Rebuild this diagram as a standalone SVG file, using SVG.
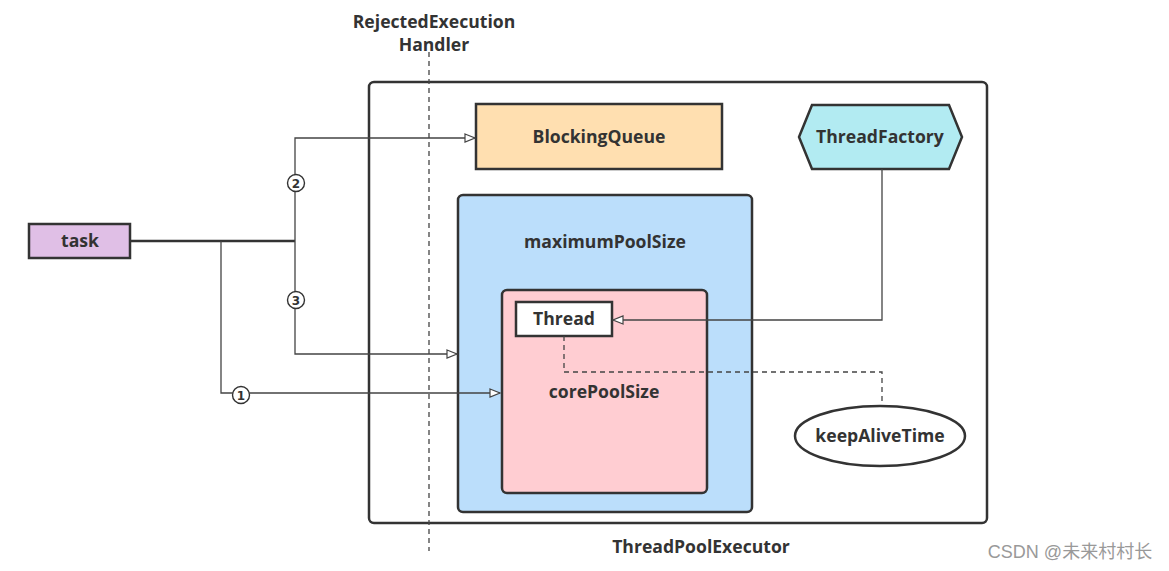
<svg xmlns="http://www.w3.org/2000/svg" width="1169" height="571" viewBox="0 0 1169 571">
<style>
.box{stroke:#333;stroke-width:2.5}
.t{font-family:"Open Sans","Noto Sans","DejaVu Sans",sans-serif;font-weight:bold;font-size:17.6px;fill:#333;text-anchor:middle}
.c{fill:none;stroke:#444;stroke-width:1.3}
.d{fill:none;stroke:#444;stroke-width:1.3;stroke-dasharray:5,4}
.n{fill:#fff;stroke:#333;stroke-width:1.4}
.nt{font-family:"DejaVu Sans",sans-serif;font-weight:bold;font-size:12px;fill:#333;text-anchor:middle}
</style>
<defs>
<marker id="a" markerWidth="12" markerHeight="10" refX="11" refY="5" orient="auto" markerUnits="userSpaceOnUse">
<path d="M1,1 L11,5 L1,9 Z" fill="#fff" stroke="#444" stroke-width="1.2"/>
</marker>
</defs>
<rect width="1169" height="571" fill="#fff"/>
<g id="executor">
<rect x="369" y="82" width="618" height="441" rx="5" fill="#fff" class="box"/>
<text class="t" x="701" y="553">ThreadPoolExecutor</text>
</g>
<g id="handler">
<line x1="429" y1="52" x2="429" y2="551" class="d"/>
<text class="t" x="434" y="28">RejectedExecution</text>
<text class="t" x="434" y="51">Handler</text>
</g>
<g id="maxpool">
<rect x="458" y="195" width="294" height="317" rx="5" fill="#bbdefb" class="box"/>
<text class="t" x="605" y="248">maximumPoolSize</text>
</g>
<g id="corepool">
<rect x="502" y="290" width="205" height="203" rx="5" fill="#ffcdd2" class="box"/>
<text class="t" x="604" y="398">corePoolSize</text>
</g>
<g id="thread">
<rect x="516" y="302" width="96" height="34" fill="#fff" class="box"/>
<text class="t" x="564" y="325">Thread</text>
</g>
<g id="queue">
<rect x="476" y="104" width="246" height="65" fill="#ffdfb0" class="box"/>
<text class="t" x="599" y="143">BlockingQueue</text>
</g>
<g id="factory">
<polygon points="812,105 949,105 962,137 949,169 812,169 799,137" fill="#b2ebf2" class="box"/>
<text class="t" x="880" y="143">ThreadFactory</text>
</g>
<g id="keepalive">
<ellipse cx="880" cy="436" rx="85" ry="30" fill="#fff" class="box"/>
<text class="t" x="880" y="442">keepAliveTime</text>
</g>
<g id="task">
<rect x="29" y="224" width="101" height="34" fill="#e0bfe6" class="box"/>
<text class="t" x="80" y="247">task</text>
</g>
<g id="connectors">
<line x1="130" y1="241" x2="295" y2="241" stroke="#333" stroke-width="2.5"/>
<path d="M295,241 V138 H475" class="c" marker-end="url(#a)"/>
<path d="M295,241 V354 H457" class="c" marker-end="url(#a)"/>
<path d="M221,241 V393 H500" class="c" marker-end="url(#a)"/>
<path d="M882,169 V320 H613" class="c" marker-end="url(#a)"/>
<path d="M564,336 V372 H882 V405" class="d"/>
<circle cx="296" cy="183" r="8.5" class="n"/>
<text class="nt" x="296" y="187.5">2</text>
<circle cx="296" cy="300" r="8.5" class="n"/>
<text class="nt" x="296" y="304.5">3</text>
<circle cx="241" cy="395" r="8.5" class="n"/>
<text class="nt" x="241" y="399.5">1</text>
</g>
<text x="1070" y="558" font-family="'Liberation Sans','Noto Sans CJK SC',sans-serif" font-size="18" fill="#999" text-anchor="middle">CSDN @未来村村长</text>
</svg>
